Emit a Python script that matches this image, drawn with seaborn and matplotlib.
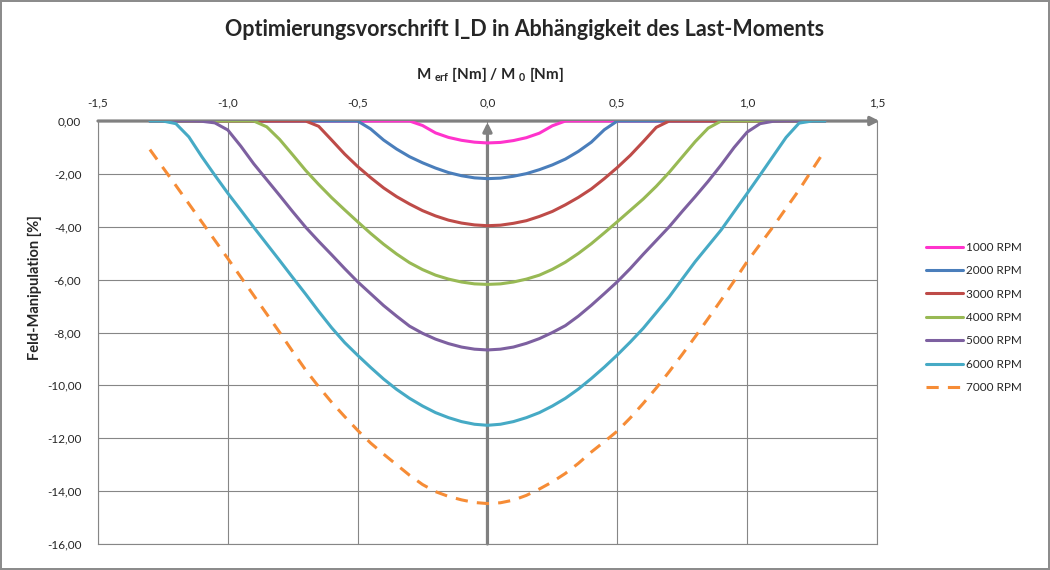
import pandas as pd
import matplotlib
matplotlib.use("Agg")
import matplotlib.pyplot as plt
import seaborn as sns

# x values: M_erf / M_0
x_vals = [-1.30, -1.25, -1.20, -1.15, -1.10, -1.05, -1.00, -0.95, -0.90, -0.85,
          -0.80, -0.75, -0.70, -0.65, -0.60, -0.55, -0.50, -0.45, -0.40, -0.35,
          -0.30, -0.25, -0.20, -0.15, -0.10, -0.05, 0.00, 0.05, 0.10, 0.15,
          0.20, 0.25, 0.30, 0.35, 0.40, 0.45, 0.50, 0.55, 0.60, 0.65,
          0.70, 0.75, 0.80, 0.85, 0.90, 0.95, 1.00, 1.05, 1.10, 1.15,
          1.20, 1.25, 1.30]

rpm_1000 = [0, 0, 0, 0, 0, 0, 0, 0, 0, 0,
            0, 0, 0, 0, 0, 0, 0, 0, 0, 0,
            0, -0.17, -0.45, -0.62, -0.73, -0.80, -0.83, -0.81, -0.74, -0.63,
            -0.46, -0.18, 0, 0, 0, 0, 0, 0, 0, 0,
            0, 0, 0, 0, 0, 0, 0, 0, 0, 0,
            0, 0, 0]

rpm_2000 = [0, 0, 0, 0, 0, 0, 0, 0, 0, 0,
            0, 0, 0, 0, 0, 0, 0, -0.30, -0.72, -1.06,
            -1.35, -1.58, -1.78, -1.95, -2.07, -2.15, -2.18, -2.16, -2.09, -1.99,
            -1.84, -1.66, -1.44, -1.15, -0.80, -0.33, 0, 0, 0, 0,
            0, 0, 0, 0, 0, 0, 0, 0, 0, 0,
            0, 0, 0]

rpm_3000 = [0, 0, 0, 0, 0, 0, 0, 0, 0, 0,
            0, 0, 0, -0.20, -0.72, -1.25, -1.72, -2.14, -2.53, -2.86,
            -3.14, -3.39, -3.59, -3.75, -3.86, -3.93, -3.96, -3.94, -3.87, -3.77,
            -3.61, -3.42, -3.17, -2.89, -2.57, -2.18, -1.76, -1.30, -0.78, -0.24,
            0, 0, 0, 0, 0, 0, 0, 0, 0, 0,
            0, 0, 0]

rpm_4000 = [0, 0, 0, 0, 0, 0, 0, 0, 0, -0.22,
            -0.70, -1.28, -1.87, -2.40, -2.90, -3.36, -3.81, -4.25, -4.66, -5.03,
            -5.36, -5.62, -5.83, -5.98, -6.09, -6.16, -6.18, -6.16, -6.09, -5.98,
            -5.83, -5.61, -5.34, -5.01, -4.64, -4.23, -3.81, -3.38, -2.95, -2.47,
            -1.94, -1.36, -0.78, -0.27, 0, 0, 0, 0, 0, 0,
            0, 0, 0]

rpm_5000 = [0, 0, 0, 0, -0.01, -0.07, -0.34, -0.95, -1.62, -2.22,
            -2.82, -3.43, -4.02, -4.55, -5.06, -5.58, -6.08, -6.53, -6.98, -7.38,
            -7.76, -8.03, -8.25, -8.42, -8.55, -8.63, -8.66, -8.63, -8.55, -8.41,
            -8.23, -8.00, -7.74, -7.38, -6.97, -6.53, -6.08, -5.58, -5.04, -4.52,
            -4.00, -3.42, -2.86, -2.28, -1.66, -1.00, -0.42, -0.10, -0.01, 0,
            0, 0, 0]

rpm_6000 = [0, 0, -0.10, -0.60, -1.35, -2.05, -2.73, -3.37, -4.02, -4.65,
            -5.28, -5.92, -6.55, -7.20, -7.82, -8.38, -8.86, -9.32, -9.76, -10.15,
            -10.49, -10.78, -11.03, -11.22, -11.37, -11.47, -11.51, -11.47, -11.37, -11.22,
            -11.03, -10.78, -10.49, -10.14, -9.74, -9.31, -8.85, -8.36, -7.84, -7.25,
            -6.65, -5.98, -5.32, -4.72, -4.12, -3.43, -2.74, -2.04, -1.33, -0.62,
            -0.08, 0, 0]

rpm_7000 = [-1.08, -1.76, -2.44, -3.13, -3.82, -4.51, -5.20, -5.90, -6.60, -7.30,
            -8.00, -8.72, -9.42, -10.05, -10.64, -11.18, -11.70, -12.18, -12.60, -13.00,
            -13.40, -13.75, -14.02, -14.20, -14.33, -14.43, -14.47, -14.44, -14.34, -14.16,
            -13.92, -13.65, -13.33, -12.95, -12.52, -12.13, -11.73, -11.23, -10.68, -10.10,
            -9.48, -8.83, -8.16, -7.47, -6.77, -6.05, -5.32, -4.66, -4.00, -3.30,
            -2.61, -1.85, -1.10]

series_names = ["1000 RPM", "2000 RPM", "3000 RPM", "4000 RPM",
                "5000 RPM", "6000 RPM", "7000 RPM"]

x_ticks = [-1.5, -1.0, -0.5, 0.0, 0.5, 1.0, 1.5]
x_labels = ["-1,5", "-1,0", "-0,5", "0,0", "0,5", "1,0", "1,5"]
y_ticks = [0, -2, -4, -6, -8, -10, -12, -14, -16]
y_labels = ["0,00", "-2,00", "-4,00", "-6,00", "-8,00", "-10,00",
            "-12,00", "-14,00", "-16,00"]


def main():
    sns.set_style("white")
    plt.rcParams["font.family"] = ["Lato", "DejaVu Sans"]

    df = pd.DataFrame({"x": x_vals})
    for name, vals in zip(series_names, [rpm_1000, rpm_2000, rpm_3000, rpm_4000,
                                         rpm_5000, rpm_6000, rpm_7000]):
        df[name] = vals
    df = df.melt(id_vars="x", var_name="Serie", value_name="Wert")

    colors = ["#FF33CC", "#4A7EBB", "#BE4B48", "#98B954",
              "#7D60A0", "#46AAC5", "#F68C36"]
    palette = dict(zip(series_names, colors))
    dashes = {n: "" for n in series_names}
    dashes["7000 RPM"] = (4, 3)

    fig = plt.figure(figsize=(10.5, 5.7), dpi=100)
    fig.patch.set_edgecolor("#8C8C8C")
    fig.patch.set_linewidth(1.5)
    ax = fig.add_axes([0.0933, 0.0456, 0.7419, 0.7421])

    sns.lineplot(data=df, x="x", y="Wert", hue="Serie", style="Serie",
                 palette=palette, dashes=dashes, linewidth=2.2, ax=ax, zorder=3,
                 solid_joinstyle="round")

    ax.set_xlim(-1.5, 1.5)
    ax.set_ylim(-16, 0)
    ax.xaxis.tick_top()
    ax.set_xticks(x_ticks)
    ax.set_xticklabels(x_labels)
    ax.set_yticks(y_ticks)
    ax.set_yticklabels(y_labels)
    ax.tick_params(axis="x", length=0, pad=9, labelsize=8.5)
    ax.tick_params(axis="y", length=0, pad=12, labelsize=8.5)
    ax.set_xlabel("")
    ax.set_ylabel("")

    ax.set_axisbelow(True)
    ax.grid(True, color="#868686", linewidth=0.8)
    for side in ["left", "right", "bottom"]:
        ax.spines[side].set_color("#868686")
        ax.spines[side].set_linewidth(0.8)
    ax.spines["top"].set_visible(False)

    # axes with arrows
    arrow = dict(arrowstyle="-|>", color="#808080", lw=2.3,
                 shrinkA=0, shrinkB=0, mutation_scale=13)
    ax.annotate("", xy=(1.51, 0), xytext=(-1.5, 0), arrowprops=arrow,
                annotation_clip=False, zorder=2)
    ax.annotate("", xy=(0, -0.05), xytext=(0, -16), arrowprops=arrow,
                annotation_clip=False, zorder=2)

    handles, labels = ax.get_legend_handles_labels()
    ax.legend(handles, labels, loc="center left", bbox_to_anchor=(0.872, 0.443),
              bbox_transform=fig.transFigure, frameon=False, fontsize=8.5,
              handlelength=3.1, handletextpad=0.25, labelspacing=1.05)

    fig.text(0.5, 1 - 30 / 570, "Optimierungsvorschrift I_D in Abhängigkeit des Last-Moments",
             ha="center", va="center", fontsize=15.5, fontweight="bold")
    fig.text(490 / 1050, 1 - 75 / 570,
             r"M $_{\mathregular{erf}}$ [Nm] / M $_{\mathregular{0}}$ [Nm]",
             ha="center", va="center", fontsize=11, fontweight="bold")
    fig.text(35 / 1050, 1 - 288 / 570, "Feld-Manipulation [%]", rotation=90,
             ha="center", va="center", fontsize=10.5, fontweight="bold")

    fig.savefig("out.png", dpi=100)


if __name__ == "__main__":
    main()
